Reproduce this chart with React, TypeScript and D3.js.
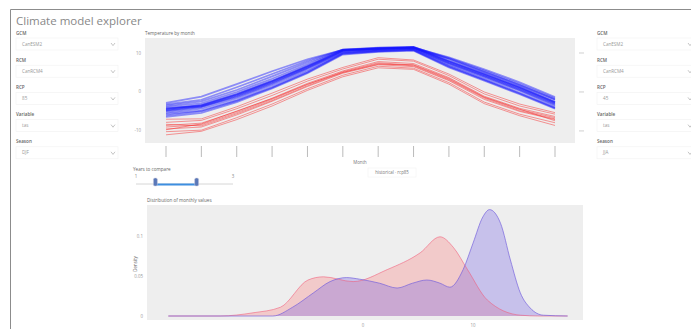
import React from "react";
import * as d3 from "d3";

// ---- data ----
const months = [1, 2, 3, 4, 5, 6, 7, 8, 9, 10, 11, 12];

// monthly mean temperature (°C), one row per ensemble member
const futureRuns: number[][] = [
  [-4.3, -3.3, -0.5, 2.9, 6.7, 10.7, 11.2, 11.5, 8.0, 4.7, 1.3, -2.5],
  [-4.9, -3.9, -1.1, 2.3, 6.1, 10.3, 10.8, 11.1, 7.4, 4.1, 0.7, -3.1],
  [-3.8, -2.9, 0.0, 3.4, 7.1, 10.9, 11.4, 11.6, 8.4, 5.1, 1.7, -2.0],
  [-5.3, -4.3, -1.6, 1.8, 5.6, 10.0, 10.6, 10.9, 7.0, 3.7, 0.3, -3.6],
  [-4.6, -3.5, -0.7, 2.7, 6.5, 10.6, 11.1, 11.4, 7.8, 4.5, 1.1, -2.7],
  [-3.5, -2.4, 0.5, 4.0, 7.6, 10.8, 11.3, 11.5, 8.7, 5.5, 2.1, -1.6],
  [-5.6, -4.8, -2.1, 1.3, 5.2, 9.9, 10.5, 10.8, 6.7, 3.3, -0.2, -4.0],
  [-4.1, -3.7, -0.9, 2.5, 6.3, 10.5, 11.0, 11.3, 7.6, 4.3, 0.9, -2.9],
  [-6.4, -5.4, -2.6, 0.9, 4.8, 9.6, 10.3, 10.6, 6.3, 2.9, -0.6, -4.3],
  [-3.2, -2.0, 1.2, 4.6, 8.0, 10.9, 11.2, 11.4, 8.9, 5.8, 2.5, -1.3],
  [-4.8, -3.8, -1.3, 2.1, 6.0, 10.2, 10.8, 11.1, 7.3, 4.0, 0.5, -3.3],
  [-6.0, -5.0, -2.3, 1.1, 5.0, 9.8, 10.4, 10.7, 6.5, 3.1, -0.4, -4.1],
  [-2.8, -1.2, 2.0, 5.3, 8.4, 10.8, 11.0, 11.2, 8.6, 5.2, 1.8, -1.9],
  [-4.4, -3.4, -0.6, 2.8, 6.6, 10.6, 11.1, 11.4, 7.9, 4.6, 1.2, -2.6],
];

const historicalRuns: number[][] = [
  [-8.6, -8.0, -5.0, -1.6, 2.2, 5.4, 7.8, 7.3, 3.7, -1.1, -4.2, -6.3],
  [-9.5, -9.0, -5.9, -2.4, 1.4, 4.8, 7.0, 6.5, 2.9, -1.9, -5.0, -7.1],
  [-7.8, -7.3, -4.3, -0.9, 2.8, 5.9, 8.4, 7.9, 4.2, -0.5, -3.6, -5.7],
  [-10.2, -9.8, -6.6, -3.1, 0.8, 4.3, 6.6, 6.1, 2.4, -2.6, -5.7, -7.9],
  [-9.0, -8.4, -5.3, -1.9, 1.9, 5.2, 7.5, 6.9, 3.3, -1.4, -4.5, -6.6],
  [-7.0, -6.9, -3.8, -0.3, 3.3, 6.3, 8.8, 8.2, 4.6, 0.0, -3.1, -5.3],
  [-11.0, -10.1, -7.1, -3.6, 0.4, 3.9, 6.2, 5.8, 2.0, -3.0, -6.1, -8.6],
  [-8.3, -8.7, -5.6, -2.2, 1.6, 5.0, 7.3, 6.7, 3.1, -1.6, -4.8, -6.9],
  [-9.7, -8.2, -4.9, -1.7, 2.0, 5.0, 7.1, 7.0, 3.5, -1.3, -4.4, -7.4],
];

const tempTicks = [-10, 0, 10];

// kernel density of the monthly values
const histDensityT = [-17.7, -13, -10, -7.5, -5, -3.6, -0.9, 2.2, 5.2, 7, 8.2, 9.5, 11.3, 14.3, 16, 18.6];
const histDensity = [0, 0, 0.004, 0.011, 0.045, 0.049, 0.043, 0.058, 0.079, 0.099, 0.086, 0.058, 0.02, 0.001, 0, 0];
const futDensityT = [-17.7, -8.2, -6.4, -4.5, -3, -1.5, -0.3, 1.5, 3.1, 4.5, 5.8, 7, 7.9, 9.1, 10, 10.9, 11.5, 12.5, 13.4, 14.3, 15.2, 16.4, 18.6];
const futDensity = [0, 0, 0.011, 0.029, 0.043, 0.048, 0.046, 0.041, 0.035, 0.041, 0.045, 0.041, 0.036, 0.058, 0.091, 0.124, 0.133, 0.116, 0.07, 0.029, 0.01, 0.001, 0];
const densityTicks = [0, 0.05, 0.1];
const densityTempTicks = [0, 10];

const leftControls = [
  { label: "GCM", value: "CanESM2" },
  { label: "RCM", value: "CanRCM4" },
  { label: "RCP", value: "85" },
  { label: "Variable", value: "tas" },
  { label: "Season", value: "DJF" },
];
const rightControls = [
  { label: "GCM", value: "CanESM2" },
  { label: "RCM", value: "CanRCM4" },
  { label: "RCP", value: "45" },
  { label: "Variable", value: "tas" },
  { label: "Season", value: "JJA" },
];

const FONT = "'Open Sans', 'Noto Sans', sans-serif";
const BG = "#eeeeee";

function Controls({ x, items, w }: { x: number; items: typeof leftControls; w: number }) {
  return (
    <g>
      {items.map((c, i) => {
        const y = 33 + i * 27.2;
        return (
          <g key={i}>
            <text x={x} y={y + 1.5} fontSize={4.6} fill="#666" fontWeight={600} fontFamily={FONT}>
              {c.label}
            </text>
            <rect x={x} y={y + 5} width={w} height={12} fill="#fff" stroke="#f1f1f1" strokeWidth={0.6} />
            <text x={x + 6} y={y + 12.6} fontSize={4.6} fill="#999" fontFamily={FONT}>
              {c.value}
            </text>
            <path d={`M${x + w - 7},${y + 10} l2,2.6 l2,-2.6`} fill="none" stroke="#aaa" strokeWidth={0.7} />
          </g>
        );
      })}
    </g>
  );
}

export default function App() {
  // top: monthly cycle
  const top = { left: 145, right: 575, top: 38, bottom: 143 };
  const x = d3.scaleLinear().domain([1, 12]).range([166, 555]);
  const y = d3.scaleLinear().domain([-13.1, 13.85]).range([top.bottom, top.top]);
  const line = d3
    .line<number>()
    .x((_, i) => x(months[i]))
    .y((d) => y(d));

  // bottom: density
  const bot = { left: 147, right: 583, top: 205, bottom: 320 };
  const xd = d3.scaleLinear().domain([-19.64, 20.0]).range([bot.left, bot.right]);
  const yd = d3.scaleLinear().domain([0, 0.1]).range([316, 236]);
  const area = (ts: number[]) =>
    d3
      .area<number>()
      .x((_, i) => xd(ts[i]))
      .y0(yd(0))
      .y1((d) => yd(d))
      .curve(d3.curveMonotoneX);
  const lineD = (ts: number[]) =>
    d3
      .line<number>()
      .x((_, i) => xd(ts[i]))
      .y((d) => yd(d))
      .curve(d3.curveMonotoneX);

  // slider
  const xs = d3.scaleLinear().domain([1, 3]).range([136, 233]);
  const sliderLo = 1.4;
  const sliderHi = 2.25;

  return (
    <div style={{ position: "fixed", left: 0, top: 0 }}>
      <svg width={691} height={329} style={{ display: "block", background: "#fff" }}>
        <path d="M10.5,340 V9.5 H700" fill="none" stroke="#8c8c8c" strokeWidth={1} />
        <text x={16} y={25} fontSize={11.5} fill="#888" fontFamily={FONT}>
          Climate model explorer
        </text>

        <Controls x={16} items={leftControls} w={102} />
        <Controls x={597} items={rightControls} w={98} />

        {/* monthly cycle */}
        <text x={145} y={35} fontSize={4.6} fill="#666" fontFamily={FONT}>
          Temperature by month
        </text>
        <rect x={top.left} y={top.top} width={top.right - top.left} height={top.bottom - top.top} fill={BG} />
        {tempTicks.map((t) => (
          <g key={t}>
            <text x={141} y={y(t) + 1.5} fontSize={4.4} fill="#999" textAnchor="end" fontFamily={FONT}>
              {t}
            </text>
            <line x1={579} x2={584} y1={y(t)} y2={y(t)} stroke="#bbb" strokeWidth={0.7} />
          </g>
        ))}
        {historicalRuns.map((r, i) => (
          <path key={"h" + i} d={line(r) || ""} fill="none" stroke="rgba(245,50,50,0.5)" strokeWidth={1} />
        ))}
        {futureRuns.map((r, i) => (
          <path key={"f" + i} d={line(r) || ""} fill="none" stroke="rgba(20,20,255,0.45)" strokeWidth={1.7} />
        ))}
        {months.map((m) => (
          <line key={m} x1={x(m)} x2={x(m)} y1={146} y2={157} stroke="#aaa" strokeWidth={0.8} />
        ))}
        <text x={360} y={164} fontSize={4.4} fill="#777" textAnchor="middle" fontFamily={FONT}>
          Month
        </text>
        <rect x={368} y={168} width={48} height={9} fill="#fff" stroke="#f0f0f0" strokeWidth={0.5} />
        <text x={392} y={174} fontSize={4.4} fill="#777" textAnchor="middle" fontFamily={FONT}>
          historical · rcp85
        </text>

        {/* period slider */}
        <text x={133} y={171} fontSize={4.6} fill="#666" fontFamily={FONT}>
          Years to compare
        </text>
        <line x1={xs(1)} x2={xs(3)} y1={184} y2={184} stroke="#ccc" strokeWidth={0.8} />
        <line x1={xs(sliderLo)} x2={xs(sliderHi)} y1={184.5} y2={184.5} stroke="#3d8ee0" strokeWidth={2} />
        {[1, 3].map((v) => (
          <text key={v} x={xs(v)} y={178} fontSize={4.4} fill="#888" textAnchor="middle" fontFamily={FONT}>
            {v}
          </text>
        ))}
        {[sliderLo, sliderHi].map((v, i) => (
          <rect key={i} x={xs(v) - 2} y={178} width={4} height={8} rx={1.5} fill="#5a78b8" stroke="#ccd" strokeWidth={0.5} />
        ))}

        {/* density */}
        <text x={147} y={202} fontSize={4.6} fill="#666" fontFamily={FONT}>
          Distribution of monthly values
        </text>
        <rect x={bot.left} y={bot.top} width={bot.right - bot.left} height={bot.bottom - bot.top} fill={BG} />
        {densityTicks.map((t) => (
          <text key={t} x={143} y={yd(t) + 1.5} fontSize={4.4} fill="#999" textAnchor="end" fontFamily={FONT}>
            {t}
          </text>
        ))}
        <text
          transform="translate(137,264) rotate(-90)"
          fontSize={4.4}
          fill="#666"
          textAnchor="middle"
          fontFamily={FONT}
        >
          Density
        </text>
        <path d={area(histDensityT)(histDensity) || ""} fill="rgba(255,110,110,0.28)" />
        <path d={area(futDensityT)(futDensity) || ""} fill="rgba(110,90,230,0.3)" />
        <path d={lineD(histDensityT)(histDensity) || ""} fill="none" stroke="rgba(240,90,120,0.7)" strokeWidth={0.8} />
        <path d={lineD(futDensityT)(futDensity) || ""} fill="none" stroke="rgba(110,90,220,0.8)" strokeWidth={0.8} />
        {densityTempTicks.map((t) => (
          <text key={t} x={xd(t)} y={327} fontSize={4.4} fill="#999" textAnchor="middle" fontFamily={FONT}>
            {t}
          </text>
        ))}
      </svg>
    </div>
  );
}
